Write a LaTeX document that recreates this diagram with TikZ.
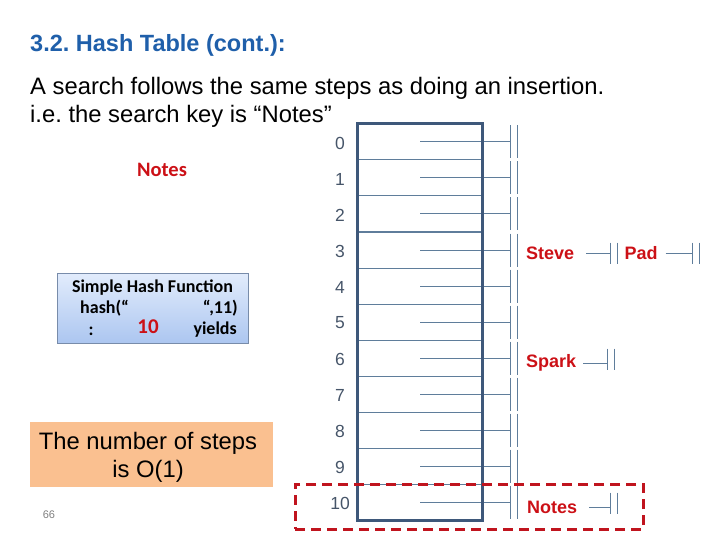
\documentclass[tikz,border=0pt]{standalone}
\usepackage{fontspec}
\setmainfont{Liberation Sans}
\newfontfamily\calib{Carlito}
\frenchspacing
\definecolor{titleblue}{RGB}{31,95,170}
\definecolor{slate}{RGB}{62,88,122}
\definecolor{slatelt}{RGB}{95,125,155}
\definecolor{numcol}{RGB}{70,85,105}
\definecolor{redtxt}{RGB}{204,16,22}
\definecolor{hlred}{RGB}{192,20,30}
\definecolor{peach}{RGB}{250,192,144}
\definecolor{hfTop}{RGB}{226,236,252}
\definecolor{hfBot}{RGB}{172,198,240}
\definecolor{hfBorder}{RGB}{120,140,170}
\begin{document}
\begin{tikzpicture}[x=1pt,y=-1pt,
  cell/.style={draw=slatelt,line width=1pt,minimum width=124pt,minimum height=36pt,inner sep=0pt},
  idx/.style={text=numcol,font=\fontsize{17.5}{19}\selectfont,inner sep=0pt},
  ptr/.style={draw=slatelt,line width=1pt},
  chain/.style={text=redtxt,font=\fontsize{18}{20}\selectfont\bfseries,inner ysep=0pt},
  hftext/.style={font=\calib\fontsize{18}{20}\selectfont\bfseries,inner sep=0pt},
  pics/nullend/.style={code={\draw[ptr] (0,-#1) -- (0,#1) (7.5,-#1) -- (7.5,#1);}}
]
\useasboundingbox (0,0) rectangle (720,540);

% title and text
\node[anchor=base west,inner sep=0pt,text=titleblue,font=\fontsize{23.5}{26}\selectfont\bfseries] (title) at (30,52) {3.2. Hash Table (cont.):};
\node[anchor=base west,inner sep=0pt,font=\fontsize{23.8}{26}\selectfont] (l1) at (30,95) {A search follows the same steps as doing an insertion.};
\node[anchor=base west,inner sep=0pt,font=\fontsize{23.8}{26}\selectfont] (l2) at (30,123) {i.e. the search key is “Notes”};

% key
\node[text=redtxt,font=\calib\fontsize{20.5}{22}\selectfont\bfseries,inner sep=0pt] (key) at (162,170) {Notes};

% hash function box
\node[draw=hfBorder,line width=0.8pt,top color=hfTop,bottom color=hfBot,minimum width=191pt,minimum height=70pt] (hf) at (152.5,308) {};
\node[hftext] (hf1) at (152.5,288) {Simple Hash Function};
\node[hftext,anchor=west] (hf2a) at (80,308) {hash(“};
\node[hftext,anchor=east] (hf2b) at (238,308) {“,11)};
\node[hftext] (hf3a) at (91,331) {:};
\node[text=redtxt,font=\calib\fontsize{21}{23}\selectfont\bfseries,inner sep=0pt] (hf3b) at (148,327) {10};
\node[hftext,anchor=east] (hf3c) at (237,330) {yields};

% steps box
\node[fill=peach,minimum width=243pt,minimum height=65pt] (steps) at (151.5,454.5) {};
\node[anchor=base,inner sep=0pt,font=\fontsize{23.8}{26}\selectfont] (s1) at (148,449) {The number of steps};
\node[anchor=base,inner sep=0pt,font=\fontsize{23.8}{26}\selectfont] (s2) at (148,477) {is O(1)};

% page number
\node[text=gray,font=\fontsize{11}{12}\selectfont,inner sep=0pt] (pg) at (49,515) {66};

% table
\foreach \i in {0,...,10}{
  \node[cell] (c\i) at (420,{142+36*\i}) {};
  \node[idx] (n\i) at (340,{143+36*\i}) {\i};
  \coordinate (e\i) at (510,{142+36*\i});
  \draw[ptr] (c\i.center) -- (e\i);
  \pic at (e\i) {nullend=16.5};
}
\draw[slate,line width=3pt] (c0.north west) rectangle (c10.south east);

% chains
\node[chain,anchor=west,inner xsep=12pt] (steve) at (514,253) {Steve};
\coordinate (steveend) at (610,253);
\draw[ptr] (steve.east) -- (steveend);
\pic at (steveend) {nullend=10.5};
\node[chain,inner xsep=8pt] (pad) at (641,253) {Pad};
\coordinate (padend) at (692,253);
\draw[ptr] (pad.east) -- (padend);
\pic at (padend) {nullend=10.5};

\node[chain,anchor=west,inner xsep=12pt] (spark) at (514,363) {Spark};
\coordinate (sparkend) at (607,363);
\draw[ptr] ([xshift=-5pt]spark.east) -- (sparkend);
\pic at ([yshift=4pt]sparkend) {nullend=10.5};

\node[chain,anchor=west,inner xsep=12pt] (notes) at (515,507) {Notes};
\coordinate (notesend) at (610,507);
\draw[ptr] (notes.east) -- (notesend);
\pic at ([yshift=4pt]notesend) {nullend=10.5};

% highlight
\node[draw=hlred,line width=3pt,dash pattern=on 10pt off 6pt,minimum width=348pt,minimum height=45pt] (hl) at (469,506.5) {};
\end{tikzpicture}
\end{document}
